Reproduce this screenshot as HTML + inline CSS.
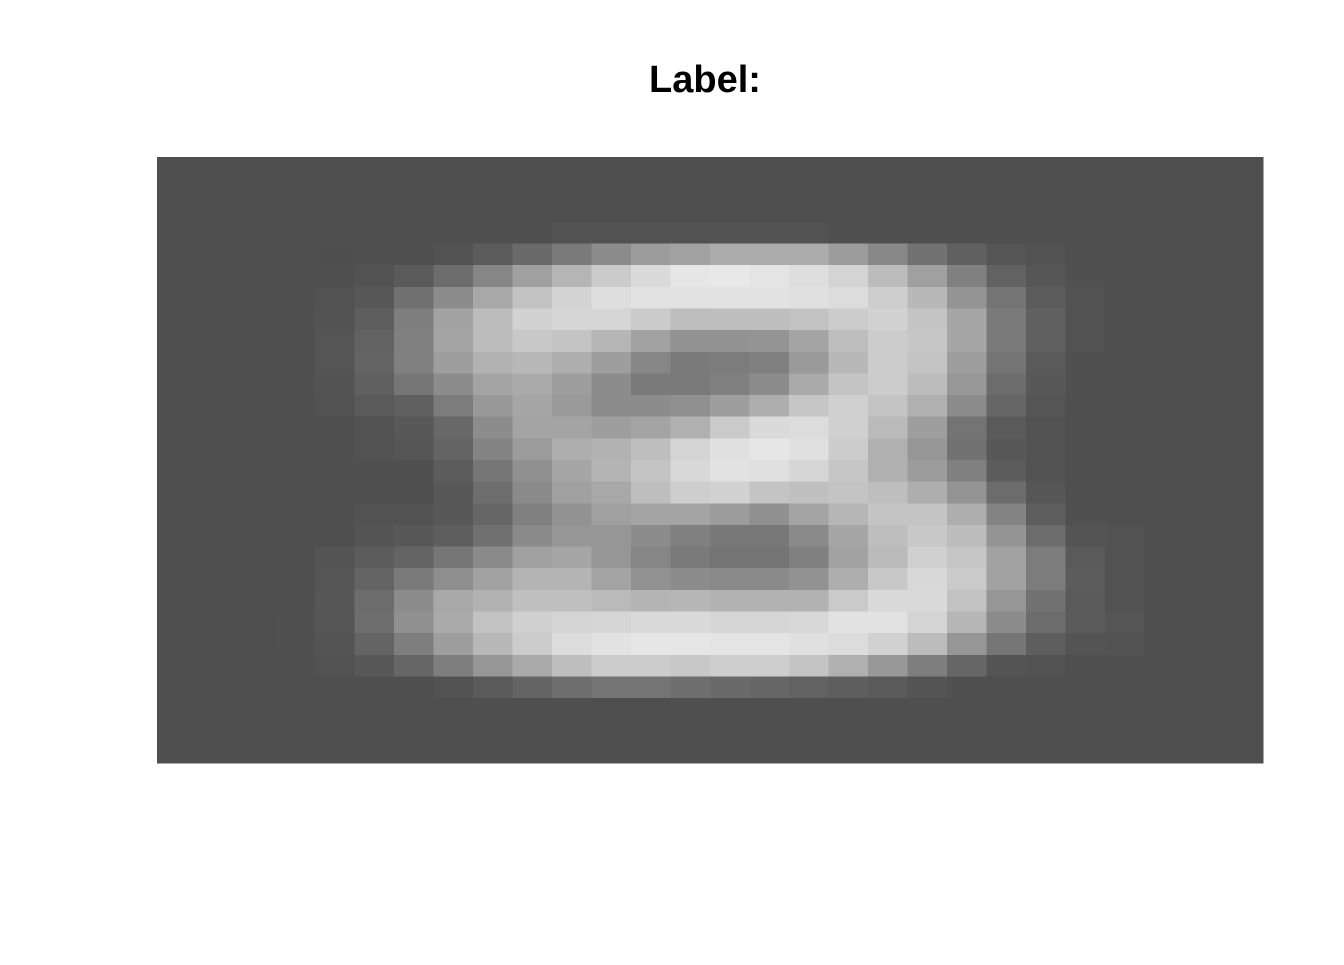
<!DOCTYPE html>
<html><head><meta charset="utf-8"><style>
body{margin:0;background:#fff;width:1344px;height:960px;overflow:hidden;font-family:"Liberation Sans",sans-serif}
</style></head><body>
<svg width="1344" height="960">
<text x="705" y="92" text-anchor="middle" font-family="Liberation Sans, sans-serif" font-weight="bold" font-size="38" fill="#000">Label:</text>
<g id="cells" shape-rendering="crispEdges"></g>
</svg>
<script>
const pixelRows = [
"4f 4f 4f 4f 4f 4f 4f 4f 4f 4f 4f 4f 4f 4f 4f 4f 4f 4f 4f 4f 4f 4f 4f 4f 4f 4f 4f 4f",
"4f 4f 4f 4f 4f 4f 4f 4f 4f 4f 4f 4f 4f 4f 4f 4f 4f 4f 4f 4f 4f 4f 4f 4f 4f 4f 4f 4f",
"4f 4f 4f 4f 4f 4f 4f 4f 4f 4f 4f 4f 4f 4f 4f 4f 4f 4f 4f 4f 4f 4f 4f 4f 4f 4f 4f 4f",
"4f 4f 4f 4f 4f 4f 4f 4f 4f 4f 52 52 52 52 52 52 52 4f 4f 4f 4f 4f 4f 4f 4f 4f 4f 4f",
"4f 4f 4f 4f 4e 4f 4f 52 5c 6a 7a 8c 9c a2 ac ac ac 9c 88 72 60 55 52 4f 4f 4f 4f 4f",
"4f 4f 4f 4f 4f 52 5a 6c 86 a0 b5 cb da e6 e8 e4 de d4 bc a0 80 62 56 50 4f 4f 4f 4f",
"4f 4f 4f 4f 52 58 70 8c a8 c2 d3 de e2 e2 e2 e2 e0 dc ce b8 94 74 5c 52 4f 4f 4f 4f",
"4f 4f 4f 4f 53 5e 7e a2 bc d2 d6 d6 cb bd be be c2 cc d2 c4 a6 7a 60 52 4f 4f 4f 4f",
"4f 4f 4f 4f 55 62 80 a4 bc c8 c4 b6 a2 92 92 94 a4 be cc c6 a6 7a 60 52 4f 4f 4f 4f",
"4f 4f 4f 4f 55 64 80 9e b2 b8 ae 9e 86 7a 7c 80 9a b8 cc c4 9e 74 5a 50 4f 4f 4f 4f",
"4f 4f 4f 4f 53 60 76 8c a4 aa 9e 8c 7a 7a 80 8c aa c4 cc bc 98 6c 58 50 4f 4f 4f 4f",
"4f 4f 4f 4f 52 5a 60 7c 98 a6 9a 8c 8c 90 9e ae c6 d0 c4 b0 8c 66 55 4f 4f 4f 4f 4f",
"4f 4f 4f 4f 4f 52 58 68 8c a4 a4 9e a4 b0 ca da dc d0 ba 9e 74 5a 52 4f 4f 4f 4f 4f",
"4f 4f 4f 4f 4f 52 56 64 84 9c ae b2 be d4 e0 e6 e0 cc b0 96 72 58 52 4f 4f 4f 4f 4f",
"4f 4f 4f 4f 4f 50 50 5c 76 90 a6 b4 c4 d8 e2 e0 d6 c6 b0 9c 80 5c 52 4f 4f 4f 4f 4f",
"4f 4f 4f 4f 4f 4f 4f 58 6e 8a a0 a8 be ce d2 c4 c0 c4 be ae 94 6c 56 4f 4f 4f 4f 4f",
"4f 4f 4f 4f 4f 52 52 58 66 80 92 a0 a4 a4 9c 90 a4 b6 c4 c4 ae 84 5e 50 4f 4f 4f 4f",
"4f 4f 4f 4f 4f 54 58 5e 70 8a 96 96 8c 80 78 78 8a a6 be c8 bc 94 6c 54 52 4f 4f 4f",
"4f 4f 4f 4f 54 5c 64 76 8a a0 a6 96 86 7a 74 74 80 a2 ba d0 c6 a2 7c 5a 52 4f 4f 4f",
"4f 4f 4f 4f 55 64 7a 8e a2 b4 b4 a4 92 8c 8a 8a 92 ae c8 d8 ca a2 7c 5c 52 4f 4f 4f",
"4f 4f 4f 4f 56 6c 8c a8 b2 c0 c0 ba b4 b6 b2 b2 b2 ca da da c2 96 72 5a 52 4f 4f 4f",
"4f 4f 4f 50 56 6e 90 aa c2 d0 d4 d6 da da d6 d6 d8 e2 e2 d4 b6 8c 6c 5a 55 4f 4f 4f",
"4f 4f 4f 50 54 64 7e 9e b8 cc dc e2 e6 e6 e4 e4 e0 dc d2 bc 96 76 5e 54 52 4f 4f 4f",
"4f 4f 4f 4f 52 58 66 7e 96 aa be cc cc c8 ce ce c4 b0 98 7e 66 54 52 4f 4f 4f 4f 4f",
"4f 4f 4f 4f 4f 4f 4f 52 5a 64 6e 74 74 6e 6a 66 62 5e 5a 54 50 4f 4f 4f 4f 4f 4f 4f",
"4f 4f 4f 4f 4f 4f 4f 4f 4f 4f 4f 4f 4f 4f 4f 4f 4f 4f 4f 4f 4f 4f 4f 4f 4f 4f 4f 4f",
"4f 4f 4f 4f 4f 4f 4f 4f 4f 4f 4f 4f 4f 4f 4f 4f 4f 4f 4f 4f 4f 4f 4f 4f 4f 4f 4f 4f",
"4f 4f 4f 4f 4f 4f 4f 4f 4f 4f 4f 4f 4f 4f 4f 4f 4f 4f 4f 4f 4f 4f 4f 4f 4f 4f 4f 4f"
];
const plotLeft = 157, plotTop = 157, plotW = 1106, plotH = 606;
const nRows = pixelRows.length;
const nCols = 28;
function xScale(c){ return plotLeft + c * plotW / nCols; }
function yScale(r){ return plotTop + r * plotH / nRows; }
const g = document.getElementById('cells');
const NS = 'http://www.w3.org/2000/svg';
pixelRows.forEach(function(row, r){
  row.split(' ').forEach(function(h, c){
    const v = parseInt(h, 16);
    const rect = document.createElementNS(NS, 'rect');
    rect.setAttribute('x', xScale(c));
    rect.setAttribute('y', yScale(r));
    rect.setAttribute('width', xScale(c + 1) - xScale(c) + 0.5);
    rect.setAttribute('height', yScale(r + 1) - yScale(r) + 0.5);
    rect.setAttribute('fill', 'rgb(' + v + ',' + v + ',' + v + ')');
    
    
    g.appendChild(rect);
  });
});
</script>
</body></html>
